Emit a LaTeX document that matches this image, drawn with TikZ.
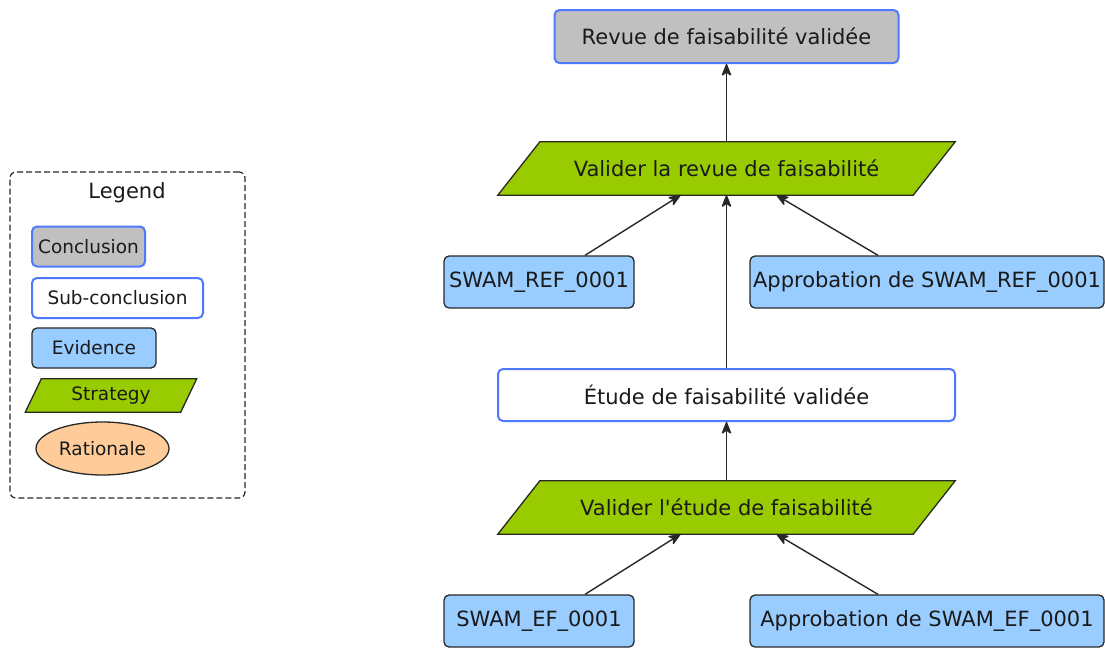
\documentclass[tikz,border=0pt]{standalone}
\usepackage{fontspec}
\setmainfont{DejaVu Sans}
\usetikzlibrary{arrows.meta,shapes.geometric,backgrounds}
\definecolor{cblue}{RGB}{77,121,255}
\definecolor{cgray}{RGB}{192,192,192}
\definecolor{evfill}{RGB}{153,204,255}
\definecolor{stfill}{RGB}{153,204,0}
\definecolor{rafill}{RGB}{255,204,153}
\definecolor{txt}{RGB}{26,26,26}
\definecolor{edge}{RGB}{40,40,40}
\begin{document}
\begin{tikzpicture}[x=1pt,y=-1pt,
  every node/.style={inner sep=0pt, text=txt},
  big/.style={font=\fontsize{21}{25}\selectfont},
  small/.style={font=\fontsize{18.5}{22}\selectfont},
  concl/.style={draw=cblue, line width=2pt, fill=cgray, rounded corners=5pt},
  subc/.style={draw=cblue, line width=2pt, fill=white, rounded corners=5pt},
  evid/.style={draw=edge, line width=1.3pt, fill=evfill, rounded corners=5pt},
  stratbox/.style={minimum width=415pt, minimum height=53pt},
  stratpoly/.style={draw=edge, line width=1.3pt, fill=stfill},
  arr/.style={draw=edge, line width=1.4pt, sharp corners, -{Stealth[length=14pt,width=11pt,inset=4pt,round=false]}}
]
\useasboundingbox (0,0) rectangle (1105,648);

% main diagram
\node[concl, big, minimum width=344pt, minimum height=53pt] (c) at (726.5,36.5) {Revue de faisabilité validée};
\node[stratbox, big] (s1) at (726.5,168.5) {Valider la revue de faisabilité};
\node[evid, big, minimum width=190pt, minimum height=52pt] (e1) at (539,282) {SWAM\_REF\_0001};
\node[evid, big, minimum width=354pt, minimum height=52pt] (e2) at (927,282) {Approbation de SWAM\_REF\_0001};
\node[subc, big, minimum width=457pt, minimum height=52pt] (sub) at (726.5,395) {Étude de faisabilité validée};
\node[stratbox, big] (s2) at (726.5,507.5) {Valider l\textquotesingle étude de faisabilité};
\node[evid, big, minimum width=190pt, minimum height=52pt] (e3) at (539,621) {SWAM\_EF\_0001};
\node[evid, big, minimum width=354pt, minimum height=52pt] (e4) at (927,621) {Approbation de SWAM\_EF\_0001};

\begin{scope}[on background layer]
  \path[stratpoly] ([xshift=21pt]s1.north west) -- ([xshift=21pt]s1.north east) -- ([xshift=-21pt]s1.south east) -- ([xshift=-21pt]s1.south west) -- cycle;
  \path[stratpoly] ([xshift=21pt]s2.north west) -- ([xshift=21pt]s2.north east) -- ([xshift=-21pt]s2.south east) -- ([xshift=-21pt]s2.south west) -- cycle;
\end{scope}

\draw[arr] (s1.north) -- (c.south);
\draw[arr] ([xshift=46pt]e1.north) -- ([xshift=-46pt]s1.south);
\draw[arr] ([xshift=-49pt]e2.north) -- ([xshift=50pt]s1.south);
\draw[arr] (sub.north) -- (s1.south);
\draw[arr] (s2.north) -- (sub.south);
\draw[arr] ([xshift=46pt]e3.north) -- ([xshift=-46pt]s2.south);
\draw[arr] ([xshift=-49pt]e4.north) -- ([xshift=50pt]s2.south);

% legend
\node[draw=edge, dash pattern=on 6pt off 3pt, line width=1.2pt, rounded corners=6pt, minimum width=235pt, minimum height=326pt] (leg) at (127.5,335) {};
\node[big] (legt) at (127,193) {Legend};
\node[concl, small, minimum width=113pt, minimum height=40pt] (lc) at (88.5,246.5) {Conclusion};
\node[subc, small, minimum width=171pt, minimum height=40pt] (ls) at (117.5,298) {Sub-conclusion};
\node[evid, small, minimum width=124pt, minimum height=40pt] (le) at (94,348) {Evidence};
\node[small, minimum width=155pt, minimum height=33pt] (lst) at (111,395.5) {Strategy};
\begin{scope}[on background layer]
  \path[stratpoly] ([xshift=8pt]lst.north west) -- ([xshift=8pt]lst.north east) -- ([xshift=-8pt]lst.south east) -- ([xshift=-8pt]lst.south west) -- cycle;
\end{scope}
\node[ellipse, draw=edge, line width=1.3pt, fill=rafill, small, minimum width=133pt, minimum height=53pt] (lr) at (102.5,448.5) {Rationale};
\end{tikzpicture}
\end{document}
